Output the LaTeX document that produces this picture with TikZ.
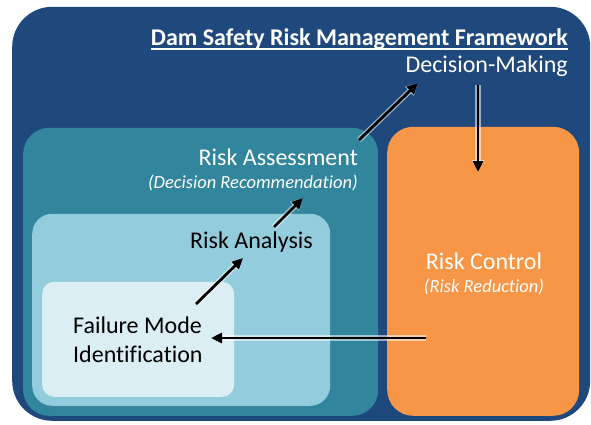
\documentclass[tikz,border=0pt]{standalone}
\usepackage{fontspec}
\setmainfont{Carlito}[Ligatures=NoCommon]
\usetikzlibrary{arrows.meta}
\newcommand\dsul[1]{\vtop{\hbox{\raisebox{0pt}[\height][0pt]{#1}}\kern2.5pt\hrule height 1.8pt}}
\definecolor{dsblue}{RGB}{31,73,125}
\definecolor{dsteal}{RGB}{49,133,156}
\definecolor{dslight}{RGB}{147,205,221}
\definecolor{dspale}{RGB}{219,238,244}
\definecolor{dsorange}{RGB}{247,150,70}
\tikzset{
  box/.style={draw=none, inner sep=0pt, anchor=south west},
  wtxt/.style={text=white, inner sep=0pt, font=\fontsize{24}{28}\selectfont},
  btxt/.style={text=black, inner sep=0pt, font=\fontsize{24}{29}\selectfont},
  itxt/.style={text=white, inner sep=0pt, font=\fontsize{18.5}{22}\selectfont\itshape},
  arr/.style={-{Triangle[length=11pt,width=10pt]}, line width=2.8pt, black,
    preaction={draw=white, opacity=0.55, line width=5.5pt, -{Triangle[length=12pt,width=12pt]}}}
}
\begin{document}
\begin{tikzpicture}[x=1pt,y=1pt]
\useasboundingbox[fill=white] (0,0) rectangle (591,424);
% boxes
\node[box, fill=dsblue, rounded corners=40pt, minimum width=578pt, minimum height=414pt] (outer) at (12,3) {};
\node[box, fill=dsteal, rounded corners=26pt, minimum width=355pt, minimum height=288pt] (assess) at (23,8) {};
\node[box, fill=dslight, rounded corners=20pt, minimum width=298pt, minimum height=192pt] (analysis) at (32,18) {};
\node[box, fill=dspale, rounded corners=12pt, minimum width=192pt, minimum height=115pt] (fmi) at (42,27) {};
\node[box, fill=dsorange, rounded corners=26pt, minimum width=192pt, minimum height=289pt] (control) at (387,8) {};
% texts
\node[wtxt, anchor=base east, font=\fontsize{24}{28}\selectfont\bfseries] (title) at (568,378) {\dsul{Dam Safety Risk Management Framework}};
\node[wtxt, anchor=base east] (dm) at (568,351) {Decision-Making};
\node[wtxt, anchor=base east] (ra) at (358,259) {Risk Assessment};
\node[itxt, anchor=base east] (rec) at (358,236) {(Decision Recommendation)};
\node[btxt, anchor=base east] (ran) at (313,176) {Risk Analysis};
\node[btxt, anchor=base west, align=left] (fm) at (73,62) {Failure Mode\\Identification};
\node[wtxt, anchor=base] (rc) at (484,155) {Risk Control};
\node[itxt, anchor=base] (rr) at (484,132) {(Risk Reduction)};
% arrow ends
\coordinate (a1s) at (359,284); \coordinate (a1e) at (418,341);
\coordinate (a2s) at (478,339); \coordinate (a2e) at (478,252);
\coordinate (a3s) at (274,197); \coordinate (a3e) at (303,226);
\coordinate (a4s) at (196,120); \coordinate (a4e) at (243,166);
\coordinate (a5s) at (426,86);  \coordinate (a5e) at (211,86);
\draw[arr] (a1s) -- (a1e);
\draw[arr] (a2s) -- (a2e);
\draw[arr] (a3s) -- (a3e);
\draw[arr] (a4s) -- (a4e);
\draw[arr] (a5s) -- (a5e);
\end{tikzpicture}
\end{document}
